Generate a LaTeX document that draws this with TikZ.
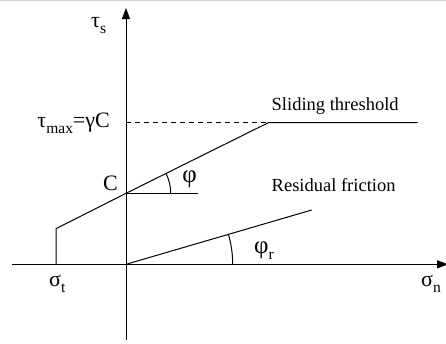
\documentclass[tikz,border=0pt]{standalone}
\usepackage{fontspec}
\setmainfont{Liberation Serif}
\usetikzlibrary{arrows.meta}
\newcommand\lowsub[1]{\raisebox{-0.3em}{\fontsize{15.5}{15.5}\selectfont #1}}
\newcommand\bigphi{{\fontsize{25}{25}\selectfont φ}}
\tikzset{
  axis/.style={line width=1pt,-{Triangle[length=11pt,width=8pt]}},
  curve/.style={line width=1pt},
  lbl/.style={inner sep=0pt,font=\fontsize{18.5}{20}\selectfont},
  glbl/.style={inner sep=0pt,font=\fontsize{22}{24}\selectfont},
}
\begin{document}
\begin{tikzpicture}[x=1pt,y=-1pt]
\useasboundingbox (0,0) rectangle (446,343);
\draw[gray!35,line width=0.8pt] (0,0.4) -- (446,0.4);
% key points
\coordinate (O) at (126,264.3);
\coordinate (xs) at (12,264.3);
\coordinate (xe) at (448,264.3);
\coordinate (ys) at (126,340);
\coordinate (ye) at (126,8);
\coordinate (C) at (126,193.3);
\coordinate (T) at (56,264.3);
\coordinate (Tt) at (56,228.7);
\coordinate (K) at (268.3,122.7);
\coordinate (Ke) at (417.7,122.7);
\coordinate (Km) at (126,122.7);
\coordinate (Ch) at (197.7,193.3);
\coordinate (R) at (311.7,210);
% axes
\draw[axis] (xs) -- (xe);
\draw[axis] (ys) -- (ye);
% failure envelope
\draw[curve] (T) -- (Tt) -- (C) -- (K) -- (Ke);
\draw[curve,dashed,dash pattern=on 5pt off 4pt] (Km) -- (K);
\draw[curve] (C) -- (Ch);
\draw[curve] (C) ++(44.7,0) arc[start angle=0,end angle=-26.4,radius=44.7];
% residual
\draw[curve] (O) -- (R);
\draw[curve] (O) ++(106.7,0) arc[start angle=0,end angle=-16.3,radius=106.7];
% labels
\node[glbl,anchor=base west] (taus) at (91,27) {τ\lowsub{s}};
\node[glbl,anchor=base east] (tmax) at (110,127) {τ\lowsub{max}=γC};
\node[glbl,anchor=base east] (lc) at (118,190) {C};
\node[glbl,anchor=base] (phi) at (189.5,182) {\bigphi};
\node[lbl,anchor=west] (slide) at (271.5,106) {Sliding threshold};
\node[lbl,anchor=west] (resid) at (271.5,185) {Residual friction};
\node[glbl,anchor=base west] (phir) at (254,253) {\bigphi\lowsub{r}};
\node[glbl,anchor=base west] (sigt) at (49,286) {σ\lowsub{t}};
\node[glbl,anchor=base west] (sign) at (421,286) {σ\lowsub{n}};
\end{tikzpicture}
\end{document}
